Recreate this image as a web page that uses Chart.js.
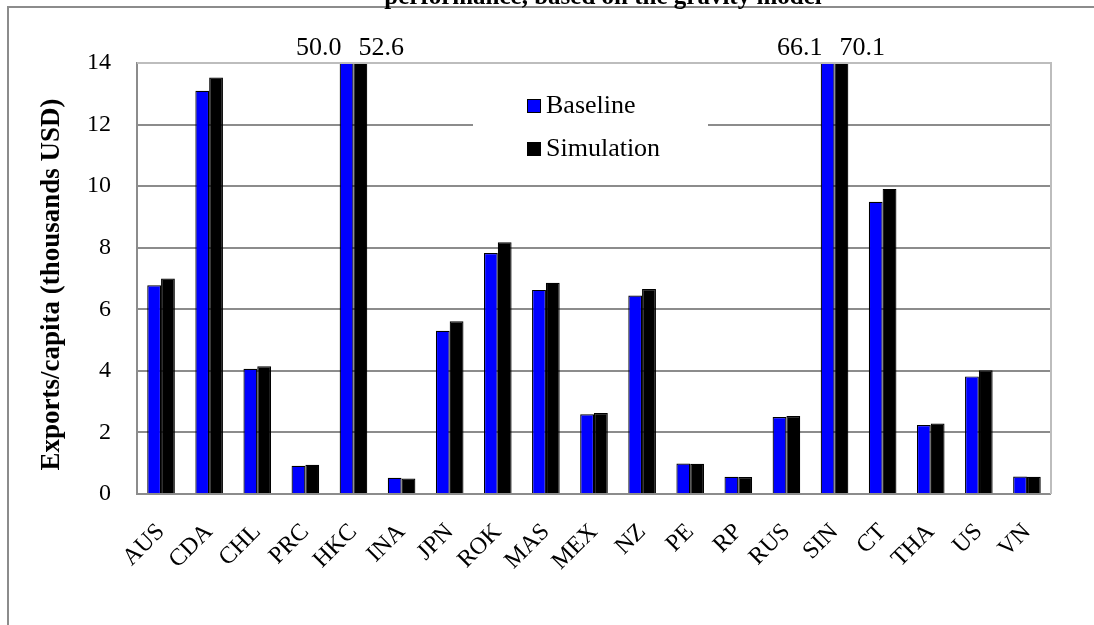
<!DOCTYPE html>
<html>
<head>
<meta charset="utf-8">
<script src="https://cdn.jsdelivr.net/npm/chart.js@4/dist/chart.umd.min.js"></script>
<style>
  html, body { margin: 0; padding: 0; background: #ffffff; }
  #wrap { width: 1094px; height: 625px; }
</style>
</head>
<body>
<div id="wrap"><canvas id="chart" width="1094" height="625"></canvas></div>
<script>
// Economies on the horizontal axis
const categories = ['AUS', 'CDA', 'CHL', 'PRC', 'HKC', 'INA', 'JPN', 'ROK', 'MAS', 'MEX',
                    'NZ', 'PE', 'RP', 'RUS', 'SIN', 'CT', 'THA', 'US', 'VN'];

// Exports per capita, thousands USD
const baseline   = [6.78, 13.10, 4.07, 0.92, 50.0, 0.53, 5.30, 7.83, 6.63, 2.59,
                    6.45, 0.99, 0.56, 2.50, 66.1, 9.49, 2.24, 3.82, 0.57];
const simulation = [7.00, 13.53, 4.15, 0.95, 52.6, 0.50, 5.61, 8.18, 6.86, 2.63,
                    6.66, 0.98, 0.55, 2.53, 70.1, 9.91, 2.29, 4.02, 0.56];

const seriesNames = ['Baseline', 'Simulation'];
const yAxisTitle = 'Exports/capita (thousands USD)';
const yMin = 0, yMax = 14, yStep = 2;

const SERIF = '"Liberation Serif", "Times New Roman", serif';

// Frame, clipped heading line, y-axis title and plot-area right edge
const framePlugin = {
  id: 'frame',
  beforeDraw(chart) {
    const ctx = chart.ctx;
    ctx.save();
    ctx.fillStyle = '#ffffff';
    ctx.fillRect(0, 0, chart.width, chart.height);
    ctx.strokeStyle = '#8c8c8c';
    ctx.lineWidth = 2;
    ctx.beginPath();
    ctx.moveTo(8, chart.height);
    ctx.lineTo(8, 7);
    ctx.lineTo(chart.width, 7);
    ctx.stroke();
    ctx.fillStyle = '#000000';
    ctx.font = 'bold 25px ' + SERIF;
    ctx.textAlign = 'center';
    ctx.textBaseline = 'alphabetic';
    ctx.fillText('performance, based on the gravity model', 603, 4);
    ctx.restore();
  },
  afterDraw(chart) {
    const a = chart.chartArea;
    const ctx = chart.ctx;
    ctx.save();
    ctx.strokeStyle = '#bdbdbd';
    ctx.lineWidth = 2;
    ctx.beginPath();
    ctx.moveTo(a.left, a.top);
    ctx.lineTo(a.right, a.top);
    ctx.lineTo(a.right, a.bottom);
    ctx.stroke();
    // rotated y-axis title
    ctx.translate(52, (a.top + a.bottom) / 2 + 6);
    ctx.rotate(-Math.PI / 2);
    ctx.fillStyle = '#000000';
    ctx.font = 'bold 27px ' + SERIF;
    ctx.textAlign = 'center';
    ctx.textBaseline = 'middle';
    ctx.fillText(yAxisTitle, 0, 0);
    ctx.restore();
  }
};

// Values of bars that run past the top of the axis
const overflowLabels = {
  id: 'overflowLabels',
  afterDatasetsDraw(chart) {
    const ctx = chart.ctx;
    const top = chart.chartArea.top;
    ctx.save();
    ctx.font = '26px ' + SERIF;
    ctx.fillStyle = '#000000';
    ctx.textBaseline = 'middle';
    chart.data.datasets.forEach((ds, di) => {
      const meta = chart.getDatasetMeta(di);
      ds.data.forEach((v, i) => {
        if (v > yMax) {
          const bar = meta.data[i];
          if (di === 0) {
            ctx.textAlign = 'right';
            ctx.fillText(v.toFixed(1), bar.x - 5, top - 15);
          } else {
            ctx.textAlign = 'left';
            ctx.fillText(v.toFixed(1), bar.x - 2, top - 15);
          }
        }
      });
    });
    ctx.restore();
  }
};

// Legend box sitting inside the plot area
const innerLegend = {
  id: 'innerLegend',
  afterDatasetsDraw(chart) {
    const ctx = chart.ctx;
    ctx.save();
    ctx.fillStyle = '#ffffff';
    ctx.fillRect(473, 88, 235, 77);
    ctx.font = '26px ' + SERIF;
    ctx.textAlign = 'left';
    ctx.textBaseline = 'middle';
    const rows = [106, 149];
    chart.data.datasets.forEach((ds, di) => {
      const y = rows[di];
      ctx.fillStyle = ds.backgroundColor;
      ctx.fillRect(527, y - 7, 14, 14);
      ctx.strokeStyle = '#000000';
      ctx.lineWidth = 1;
      ctx.strokeRect(527.5, y - 6.5, 13, 13);
      ctx.fillStyle = '#000000';
      ctx.fillText(ds.label, 546, y);
    });
    ctx.restore();
  }
};

new Chart(document.getElementById('chart'), {
  type: 'bar',
  data: {
    labels: categories,
    datasets: [
      { label: seriesNames[0], data: baseline, backgroundColor: '#0000ff',
        borderColor: '#000000', borderWidth: 1.2 },
      { label: seriesNames[1], data: simulation, backgroundColor: '#000000',
        borderColor: '#000000', borderWidth: 1.2 }
    ]
  },
  options: {
    responsive: false,
    animation: false,
    devicePixelRatio: 1,
    layout: { padding: { top: 63, right: 43, left: 0, bottom: 0 } },
    datasets: { bar: { barPercentage: 1.0, categoryPercentage: 0.574 } },
    plugins: {
      legend: { display: false },
      title: { display: false },
      tooltip: { enabled: false }
    },
    scales: {
      x: {
        grid: { display: false, drawTicks: false },
        border: { display: false },
        ticks: {
          autoSkip: false, maxRotation: 45, minRotation: 45,
          padding: 24, color: '#000000',
          font: { family: SERIF, size: 24 }
        },
        afterFit(s) { s.height = 131; }
      },
      y: {
        min: yMin, max: yMax,
        grid: { color: '#8c8c8c', lineWidth: 2, drawTicks: false },
        border: { display: true, color: '#8c8c8c', width: 2 },
        ticks: {
          stepSize: yStep, padding: 26, color: '#000000',
          font: { family: SERIF, size: 24 }
        },
        afterFit(s) { s.width = 137; }
      }
    }
  },
  plugins: [framePlugin, overflowLabels, innerLegend]
});
</script>
</body>
</html>
